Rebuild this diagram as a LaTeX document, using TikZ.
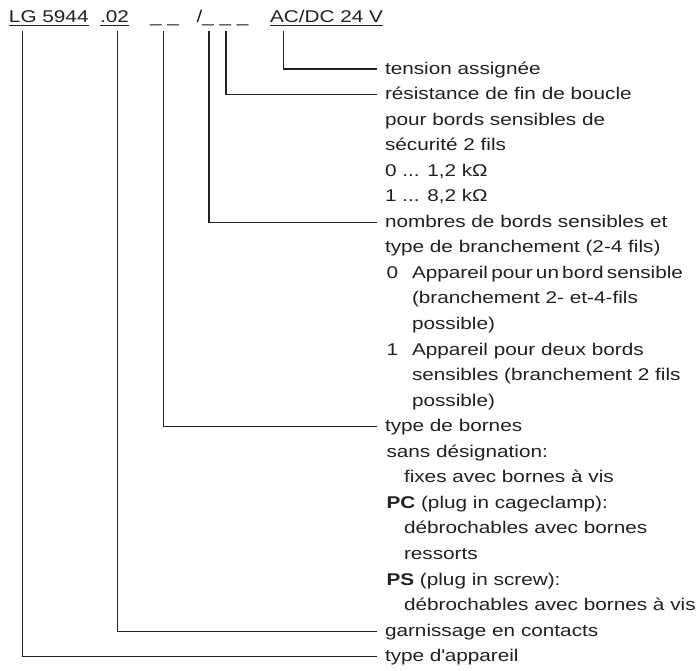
\documentclass[tikz,border=0pt]{standalone}
\usepackage{fontspec}
\setmainfont[FakeStretch=1.22]{Liberation Sans}
\definecolor{ink}{HTML}{231F20}
\begin{document}
\begin{tikzpicture}[x=1pt,y=-1pt,
  every node/.style={inner sep=0pt, outer sep=0pt, anchor=base west,
    font=\fontsize{17}{25.55}\selectfont, text=ink},
  conn/.style={draw=ink, line width=1.1pt},
  uline/.style={draw=ink, line width=1.2pt}]
\useasboundingbox (0,0) rectangle (698,670);
% header
\node (lg) at (9,22.5) {LG 5944};
\node (ct) at (100,22.5) {.02};
\node (tb) at (150,22.5) {\_ \_};
\node (ns) at (196.5,22.5) {/\_ \_ \_};
\node (ac) at (270,22.5) {AC/DC 24 V};
\draw[uline] ([yshift=-2.6pt]lg.base west) -- ([yshift=-2.6pt]lg.base east);
\draw[uline] ([yshift=-2.6pt]ct.base west) -- ([yshift=-2.6pt]ct.base east);
\draw[uline] ([yshift=-2.6pt]ac.base west) -- ([yshift=-2.6pt]ac.base east);
% top ends of the connectors
\coordinate (pLG) at (22.7,31);
\coordinate (p02) at (117.3,31);
\coordinate (pTB) at (163.3,31);
\coordinate (pN) at (209,31);
\coordinate (pR) at (226,31);
\coordinate (pV) at (283.3,31);
% texts
\node (t0) at (385,{74+25.55*0}) {tension assignée};
\node (t1) at (385,{74+25.55*1}) {résistance de fin de boucle};
\node (t2) at (385,{74+25.55*2}) {pour bords sensibles de};
\node (t3) at (385,{74+25.55*3}) {sécurité 2 fils};
\node (t4) at (385,{74+25.55*4}) {0 ... 1,2 kΩ};
\node (t5) at (385,{74+25.55*5}) {1 ... 8,2 kΩ};
\node (t6) at (385,{74+25.55*6}) {nombres de bords sensibles et};
\node (t7) at (385,{74+25.55*7}) {type de branchement (2-4 fils)};
\node (t8a) at (386.5,{74+25.55*8}) {0};
\node (t8) at (412,{74+25.55*8}) {Appareil\hspace{3.2pt}pour\hspace{3.2pt}un\hspace{3.2pt}bord\hspace{3.2pt}sensible};
\node (t9) at (412,{74+25.55*9}) {(branchement 2- et-4-fils};
\node (t10) at (412,{74+25.55*10}) {possible)};
\node (t11a) at (386.5,{74+25.55*11}) {1};
\node (t11) at (412,{74+25.55*11}) {Appareil pour deux bords};
\node (t12) at (412,{74+25.55*12}) {sensibles (branchement 2 fils};
\node (t13) at (412,{74+25.55*13}) {possible)};
\node (t14) at (385,{74+25.55*14}) {type de bornes};
\node (t15) at (386.5,{74+25.55*15}) {sans désignation:};
\node (t16) at (404,{74+25.55*16}) {fixes avec bornes à vis};
\node (t17) at (386.5,{74+25.55*17}) {\textbf{PC} (plug in cageclamp):};
\node (t18) at (404,{74+25.55*18}) {débrochables avec bornes};
\node (t19) at (404,{74+25.55*19}) {ressorts};
\node (t20) at (386.5,{74+25.55*20}) {\textbf{PS} (plug in screw):};
\node (t21) at (404,{74+25.55*21}) {débrochables avec bornes à vis};
\node (t22) at (385,{74+25.55*22}) {garnissage en contacts};
\node (t23) at (385,{74+25.55*23}) {type d\textquotesingle appareil};
% connectors
\draw[conn] (pV) |- ([xshift=-8pt,yshift=5pt]t0.base west);
\draw[conn] (pR) |- ([xshift=-8pt,yshift=5pt]t1.base west);
\draw[conn] (pN) |- ([xshift=-8pt,yshift=5pt]t6.base west);
\draw[conn] (pTB) |- ([xshift=-8pt,yshift=5pt]t14.base west);
\draw[conn] (p02) |- ([xshift=-8pt,yshift=5pt]t22.base west);
\draw[conn] (pLG) |- ([xshift=-8pt,yshift=5pt]t23.base west);
\end{tikzpicture}
\end{document}
